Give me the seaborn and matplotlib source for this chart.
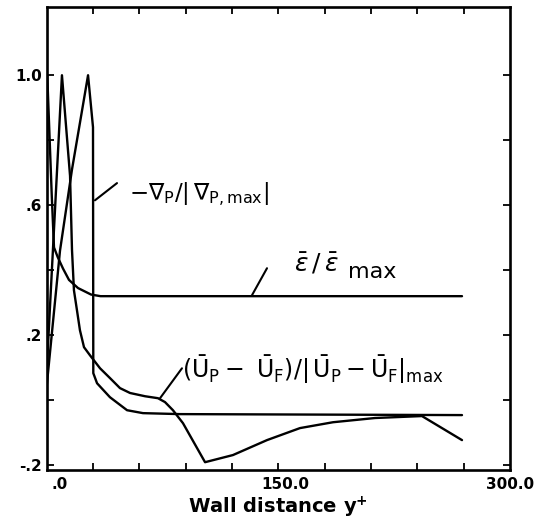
import numpy as np
import pandas as pd
import seaborn as sns
import matplotlib
matplotlib.use("Agg")
import matplotlib.pyplot as plt

# curves (x = wall distance y+, y = normalised value)
press_x = [-10, 0, 8, 18.7, 22, 22.2, 24.7, 33.3, 44.7, 55.3, 80, 268]
press_y = [-0.01, 0.46, 0.71, 1.0, 0.84, 0.083, 0.052, 0.009, -0.031, -0.04, -0.043, -0.046]

eps_x = [-10, -8.5, -5.5, -4.0, -1.5, 2.0, 6.0, 12, 20.7, 27, 268]
eps_y = [-0.01, 1.0, 0.63, 0.47, 0.44, 0.405, 0.37, 0.345, 0.325, 0.32, 0.32]

slip_x = [-10, 1.3, 6.7, 8, 9.3, 11.3, 13.3, 16, 20, 26.7, 33.3, 40, 46.7, 56.7, 65.3,
          70, 75.3, 82, 96.7, 115.3, 138, 160, 182, 210, 241.3, 268]
slip_y = [-0.01, 1.0, 0.69, 0.462, 0.338, 0.277, 0.215, 0.163, 0.138, 0.098, 0.068, 0.037,
          0.022, 0.012, 0.006, -0.006, -0.031, -0.071, -0.191, -0.169, -0.123, -0.086,
          -0.068, -0.055, -0.049, -0.123]

ytick_vals = [-0.2, 0.0, 0.2, 0.4, 0.6, 0.8, 1.0]
ytick_text = ["-.2", "", ".2", "", ".6", "", "1.0"]
xtick_vals = [0, 150, 300]
xtick_text = [".0", "150.0", "300.0"]

sns.set_style("ticks", {"axes.edgecolor": "black", "text.color": "black",
                        "xtick.color": "black", "ytick.color": "black",
                        "axes.labelcolor": "black"})
plt.rcParams["mathtext.fontset"] = "dejavusans"

fig = plt.figure(figsize=(5.49, 5.25), dpi=100)
ax = fig.add_axes([46.5 / 549, 55 / 525, 463.5 / 549, 463 / 525])

for xs, ys in [(press_x, press_y), (eps_x, eps_y), (slip_x, slip_y)]:
    d = pd.DataFrame({"x": xs, "y": ys})
    sns.lineplot(data=d, x="x", y="y", sort=False, color="black", lw=1.7, ax=ax)

ax.set_xlim(-9, 300)
ax.set_ylim(-0.215, 1.21)

ax.set_xticks(xtick_vals)
ax.set_xticklabels(xtick_text, fontweight="bold", fontsize=11)
ax.set_xticks(np.linspace(-9, 300, 11)[1:-1], minor=True)
ax.set_yticks(ytick_vals)
ax.set_yticklabels(ytick_text, fontweight="bold", fontsize=11)
ax.tick_params(axis="x", which="major", length=0, pad=5)
ax.tick_params(axis="x", which="minor", direction="in", length=5, width=1.3, top=True, bottom=True)
ax.tick_params(axis="y", direction="in", length=5, width=1.3, left=True, right=True, pad=3)
for s in ax.spines.values():
    s.set_linewidth(1.9)

ax.set_xlabel(r"Wall distance y$^{\mathbf{+}}$", fontsize=14, fontweight="bold", labelpad=2)
ax.set_ylabel("")

# labels with leader lines
line_kw = dict(arrowstyle="-", lw=1.5, color="black", shrinkA=0, shrinkB=0)
ax.annotate("", xy=(23.3, 0.615), xytext=(38, 0.668), arrowprops=line_kw)
ax.text(46, 0.635, r"$-\nabla_{\mathrm{P}}/|\,\nabla_{\mathrm{P,max}}|$", fontsize=16.5,
        va="center", ha="left")

ax.annotate("", xy=(128, 0.323), xytext=(138, 0.406), arrowprops=line_kw)
ax.text(156, 0.42, r"$\bar{\epsilon}\,/\,\bar{\epsilon}$", fontsize=18, va="center", ha="left")
ax.text(192, 0.395, "max", fontsize=16, va="center", ha="left")

ax.annotate("", xy=(66.7, 0.006), xytext=(81.3, 0.098), arrowprops=line_kw)
ax.text(81.5, 0.095,
        r"$(\bar{\mathrm{U}}_{\mathrm{P}}-\ \bar{\mathrm{U}}_{\mathrm{F}})/|\,\bar{\mathrm{U}}_{\mathrm{P}}-\bar{\mathrm{U}}_{\mathrm{F}}|_{\mathrm{max}}$",
        fontsize=17, va="center", ha="left")

fig.savefig("out.png", dpi=100)
